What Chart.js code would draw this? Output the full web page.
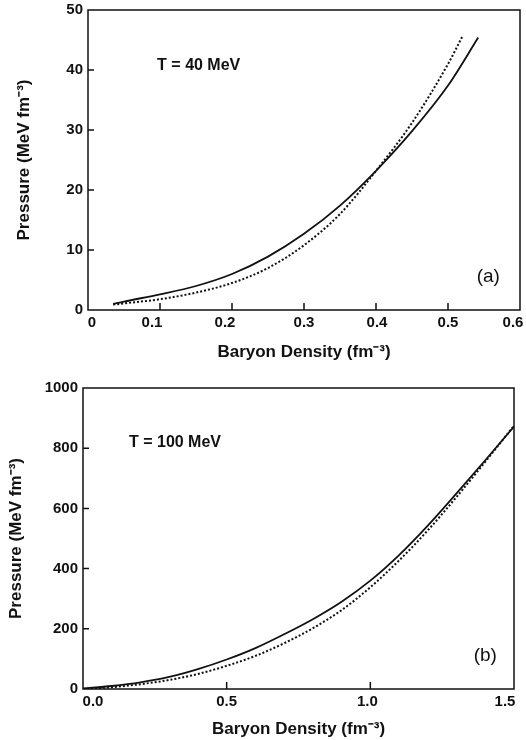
<!DOCTYPE html>
<html>
<head>
<meta charset="utf-8">
<script src="https://cdn.jsdelivr.net/npm/chart.js@4.4.0/dist/chart.umd.min.js"></script>
<style>
  body { margin: 0; background: #fff; }
  .panel { width: 526px; height: 370px; }
</style>
</head>
<body>
<div class="panel"><canvas id="chartA" width="526" height="370"></canvas></div>
<div class="panel"><canvas id="chartB" width="526" height="370"></canvas></div>
<script>
// panel (a), T = 40 MeV
const densityA_solid = [0.035, 0.05, 0.1, 0.15, 0.2, 0.25, 0.3, 0.35, 0.4, 0.45, 0.5, 0.542];
const pressureA_solid = [1.0, 1.4, 2.6, 4.0, 6.0, 8.9, 12.7, 17.4, 23.2, 29.8, 37.4, 45.4];
const densityA_dot = [0.035, 0.05, 0.1, 0.15, 0.2, 0.25, 0.3, 0.35, 0.4, 0.45, 0.5, 0.52];
const pressureA_dot = [0.9, 1.1, 1.8, 2.9, 4.5, 7.0, 10.8, 16.0, 23.2, 31.2, 41.0, 45.6];
const ticksA_x = [0, 0.1, 0.2, 0.3, 0.4, 0.5, 0.6];
const ticksA_y = [0, 10, 20, 30, 40, 50];

// panel (b), T = 100 MeV
const densityB = [0, 0.1, 0.2, 0.3, 0.4, 0.5, 0.6, 0.7, 0.8, 0.9, 1.0, 1.1, 1.2, 1.3, 1.4, 1.5];
const pressureB_solid = [2, 10, 22, 40, 66, 98, 136, 182, 232, 290, 360, 445, 543, 650, 760, 872];
const pressureB_dot = [0, 6, 16, 30, 50, 77, 110, 152, 202, 262, 338, 427, 527, 638, 755, 875];
const ticksB_x = [0, 0.5, 1.0, 1.5];
const ticksB_y = [0, 200, 400, 600, 800, 1000];

const xTitle = 'Baryon Density (fm\u207B\u00B3)';
const yTitle = 'Pressure (MeV fm\u207B\u00B3)';

const FONT = "'Liberation Sans', Arial, sans-serif";

function pts(xs, ys) {
  return xs.map((x, i) => ({ x: x, y: ys[i] }));
}

// box frame, inward ticks, x tick labels and the text labels inside the plot
function framePlugin(cfg) {
  return {
    id: 'frame',
    afterDraw(chart) {
      const ctx = chart.ctx;
      const a = chart.chartArea;
      const xs = chart.scales.x, ys = chart.scales.y;
      ctx.save();
      ctx.strokeStyle = '#111';
      ctx.lineWidth = 1.5;
      ctx.strokeRect(a.left, a.top, a.right - a.left, a.bottom - a.top);
      ctx.beginPath();
      xs.ticks.forEach(t => {
        if (t.value <= xs.min || t.value >= xs.max) return;
        const px = xs.getPixelForValue(t.value);
        ctx.moveTo(px, a.bottom);
        ctx.lineTo(px, a.bottom - 7);
      });
      ys.ticks.forEach(t => {
        if (t.value <= ys.min || t.value >= ys.max) return;
        const py = ys.getPixelForValue(t.value);
        ctx.moveTo(a.left, py);
        ctx.lineTo(a.left + 6, py);
      });
      ctx.stroke();

      ctx.fillStyle = '#111';
      // x tick labels, nudged like the printed figure
      ctx.font = 'bold 15px ' + FONT;
      ctx.textAlign = 'center';
      ctx.textBaseline = 'middle';
      xs.ticks.forEach((t, i) => {
        const px = xs.getPixelForValue(t.value) + (cfg.xNudge[i] || 0);
        ctx.fillText(cfg.xFmt(t.value), px, a.bottom + 13);
      });

      cfg.notes.forEach(n => {
        ctx.font = n.font;
        ctx.textAlign = n.align;
        ctx.fillText(n.text, xs.getPixelForValue(n.x), ys.getPixelForValue(n.y));
      });
      ctx.restore();
    }
  };
}

function makeChart(id, cfg) {
  return new Chart(document.getElementById(id), {
    type: 'scatter',
    data: {
      datasets: [
        {
          data: cfg.solid,
          showLine: true,
          borderColor: '#111',
          borderWidth: 1.8,
          pointRadius: 0,
          cubicInterpolationMode: 'monotone'
        },
        {
          data: cfg.dotted,
          showLine: true,
          borderColor: '#111',
          borderWidth: 2,
          borderDash: [2, 2],
          pointRadius: 0,
          cubicInterpolationMode: 'monotone'
        }
      ]
    },
    options: {
      responsive: false,
      animation: false,
      events: [],
      layout: { padding: cfg.padding },
      plugins: { legend: { display: false }, tooltip: { enabled: false } },
      scales: {
        x: {
          type: 'linear',
          min: cfg.xMin, max: cfg.xMax,
          afterBuildTicks: s => { s.ticks = cfg.xTicks.map(v => ({ value: v })); },
          afterFit: s => { s.height = cfg.xHeight; s.paddingLeft = 0; s.paddingRight = 0; },
          grid: { display: false, drawTicks: false },
          border: { display: false },
          ticks: { display: false },
          title: {
            display: true,
            text: xTitle,
            color: '#111',
            font: { family: FONT, size: 17, weight: 'bold' },
            padding: { top: 0, bottom: cfg.xTitlePad }
          }
        },
        y: {
          type: 'linear',
          min: cfg.yMin, max: cfg.yMax,
          afterBuildTicks: s => { s.ticks = cfg.yTicks.map(v => ({ value: v })); },
          afterFit: s => { s.width = cfg.yWidth; s.paddingTop = 0; s.paddingBottom = 0; },
          grid: { display: false, drawTicks: false },
          border: { display: false },
          ticks: {
            color: '#111',
            padding: 5,
            font: { family: FONT, size: 15, weight: 'bold' },
            callback: v => String(v)
          },
          title: {
            display: true,
            text: yTitle,
            color: '#111',
            font: { family: FONT, size: 17, weight: 'bold' },
            padding: { top: cfg.yTitlePad, bottom: 0 }
          }
        }
      }
    },
    plugins: [framePlugin(cfg)]
  });
}

makeChart('chartA', {
  solid: pts(densityA_solid, pressureA_solid),
  dotted: pts(densityA_dot, pressureA_dot),
  xMin: 0, xMax: 0.6, yMin: 0, yMax: 50,
  xTicks: ticksA_x,
  yTicks: ticksA_y,
  xFmt: v => v === 0 ? '0' : v.toFixed(1),
  xNudge: [4, -8, -7, 0, 1, 0, -7],
  padding: { left: 0, right: 6, top: 10, bottom: 0 },
  xHeight: 60, yWidth: 88, xTitlePad: 7, yTitlePad: 14,
  notes: [
    { text: 'T = 40 MeV', x: 0.096, y: 40.7, align: 'left', font: 'bold 16px ' + FONT },
    { text: '(a)', x: 0.556, y: 5.5, align: 'center', font: '19px ' + FONT }
  ]
});

makeChart('chartB', {
  solid: pts(densityB, pressureB_solid),
  dotted: pts(densityB, pressureB_dot),
  xMin: 0, xMax: 1.5, yMin: 0, yMax: 1000,
  xTicks: ticksB_x,
  yTicks: ticksB_y,
  xFmt: v => v.toFixed(1),
  xNudge: [10, 0, -3, -9],
  padding: { left: 0, right: 12, top: 18, bottom: 0 },
  xHeight: 51, yWidth: 83, xTitlePad: 0, yTitlePad: 6,
  notes: [
    { text: 'T = 100 MeV', x: 0.16, y: 820, align: 'left', font: 'bold 16px ' + FONT },
    { text: '(b)', x: 1.4, y: 112, align: 'center', font: '19px ' + FONT }
  ]
});
</script>
</body>
</html>
